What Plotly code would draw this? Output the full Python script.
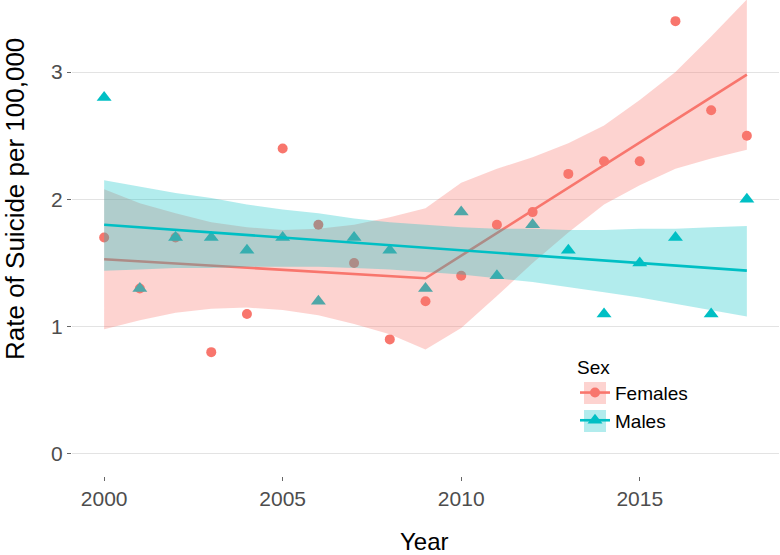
import plotly.graph_objects as go

# ---------------- data ----------------
years = list(range(2000, 2019))
female_rate = [1.7, 1.3, 1.7, 0.8, 1.1, 2.4, 1.8, 1.5, 0.9, 1.2,
               1.4, 1.8, 1.9, 2.2, 2.3, 2.3, 3.4, 2.7, 2.5]
male_rate = [2.8, 1.3, 1.7, 1.7, 1.6, 1.7, 1.2, 1.7, 1.6, 1.3,
             1.9, 1.4, 1.8, 1.6, 1.1, 1.5, 1.7, 1.1, 2.0]

# fitted trends (females: joinpoint at 2009)
fit_years_female = [2000, 2009, 2018]
fit_female = [1.53, 1.38, 2.98]
fit_years_male = [2000, 2018]
fit_male = [1.80, 1.44]

# confidence bands (per year)
female_upper = [2.08, 1.97, 1.89, 1.82, 1.78, 1.76, 1.77, 1.80, 1.86, 1.93,
                2.13, 2.24, 2.33, 2.44, 2.58, 2.78, 3.00, 3.28, 3.57]
female_lower = [0.98, 1.05, 1.11, 1.14, 1.15, 1.13, 1.09, 1.02, 0.94, 0.82,
                0.99, 1.24, 1.50, 1.74, 1.96, 2.11, 2.24, 2.32, 2.39]
male_upper = [2.15, 2.10, 2.05, 2.01, 1.96, 1.92, 1.89, 1.85, 1.82, 1.80,
              1.78, 1.77, 1.77, 1.76, 1.76, 1.77, 1.77, 1.78, 1.79]
male_lower = [1.44, 1.45, 1.46, 1.46, 1.47, 1.47, 1.47, 1.46, 1.45, 1.43,
              1.41, 1.38, 1.35, 1.31, 1.27, 1.23, 1.18, 1.13, 1.08]

x_ticks = [2000, 2005, 2010, 2015]
y_ticks = [0, 1, 2, 3]
sex_labels = ["Females", "Males"]

# ---------------- styling ----------------
F_COL = "#F8766D"
M_COL = "#00BFC4"
F_FILL = "rgba(248,118,109,0.32)"
M_FILL = "rgba(0,191,196,0.30)"
FONT = "Liberation Sans, Arial, sans-serif"

# plot-area geometry in pixels (used for layout placement only)
L, R, T, B = 72, 1, 0, 79
PW, PH = 780 - L - R, 555 - T - B


def px_x(p):
    return (p - L) / PW


def px_y(p):
    return (T + PH - p) / PH


fig = go.Figure()

# points first (ribbons are drawn over them, as in the reference)
fig.add_trace(go.Scatter(x=years, y=female_rate, mode="markers",
                         marker=dict(symbol="circle", size=10, color=F_COL),
                         showlegend=False, hoverinfo="skip"))
fig.add_trace(go.Scatter(x=years, y=male_rate, mode="markers",
                         marker=dict(symbol="triangle-up", size=13, color=M_COL),
                         showlegend=False, hoverinfo="skip"))

# females: ribbon then line
fig.add_trace(go.Scatter(x=years + years[::-1], y=female_upper + female_lower[::-1],
                         mode="lines", fill="toself", fillcolor=F_FILL,
                         line=dict(width=0), showlegend=False, hoverinfo="skip"))
fig.add_trace(go.Scatter(x=fit_years_female, y=fit_female, mode="lines",
                         line=dict(color=F_COL, width=2.6),
                         showlegend=False, hoverinfo="skip"))

# males: ribbon then line
fig.add_trace(go.Scatter(x=years + years[::-1], y=male_upper + male_lower[::-1],
                         mode="lines", fill="toself", fillcolor=M_FILL,
                         line=dict(width=0), showlegend=False, hoverinfo="skip"))
fig.add_trace(go.Scatter(x=fit_years_male, y=fit_male, mode="lines",
                         line=dict(color=M_COL, width=2.6),
                         showlegend=False, hoverinfo="skip"))

# legend entries
fig.add_trace(go.Scatter(x=[None], y=[None], mode="lines+markers", name=sex_labels[0],
                         line=dict(color=F_COL, width=2.6),
                         marker=dict(symbol="circle", size=10, color=F_COL)))
fig.add_trace(go.Scatter(x=[None], y=[None], mode="lines+markers", name=sex_labels[1],
                         line=dict(color=M_COL, width=2.6),
                         marker=dict(symbol="triangle-up", size=13, color=M_COL)))

# legend key background squares (ribbon fill colour behind each key)
key_shapes = [
    dict(type="rect", xref="paper", yref="paper",
         x0=px_x(584), x1=px_x(606), y0=px_y(404), y1=px_y(382),
         fillcolor=F_FILL, line=dict(width=0), layer="above"),
    dict(type="rect", xref="paper", yref="paper",
         x0=px_x(584), x1=px_x(606), y0=px_y(432), y1=px_y(410),
         fillcolor=M_FILL, line=dict(width=0), layer="above"),
]

fig.update_layout(
    width=780, height=555,
    margin=dict(l=L, r=R, t=T, b=B),
    paper_bgcolor="white", plot_bgcolor="white",
    font=dict(family=FONT, color="#000000"),
    xaxis=dict(range=[1999.1, 2018.9], tickvals=x_ticks, ticks="outside",
               ticklen=4, tickcolor="#666666", tickwidth=1,
               showgrid=False, zeroline=False, showline=False,
               tickfont=dict(size=21, color="#4D4D4D", family=FONT)),
    yaxis=dict(range=[-0.173, 3.566], tickvals=y_ticks, ticks="outside",
               ticklen=4, tickcolor="#666666", tickwidth=1,
               showgrid=True, gridcolor="#E3E3E3", gridwidth=1.3,
               zeroline=False, showline=False,
               tickfont=dict(size=21, color="#4D4D4D", family=FONT)),
    legend=dict(x=px_x(575), y=px_y(349), xanchor="left", yanchor="top",
                bgcolor="rgba(0,0,0,0)", borderwidth=0,
                title=dict(text="Sex", font=dict(size=19, family=FONT)),
                font=dict(size=19, family=FONT), tracegroupgap=0),
    shapes=key_shapes,
    annotations=[
        dict(text="Rate of Suicide per 100,000", textangle=-90,
             xref="paper", yref="paper", x=px_x(15), y=px_y(199),
             xanchor="center", yanchor="middle", showarrow=False,
             font=dict(size=26, family=FONT, color="#000000")),
        dict(text="Year", xref="paper", yref="paper",
             x=px_x(424), y=px_y(541),
             xanchor="center", yanchor="middle", showarrow=False,
             font=dict(size=24, family=FONT, color="#000000")),
    ],
)

fig.write_html("out.html")
